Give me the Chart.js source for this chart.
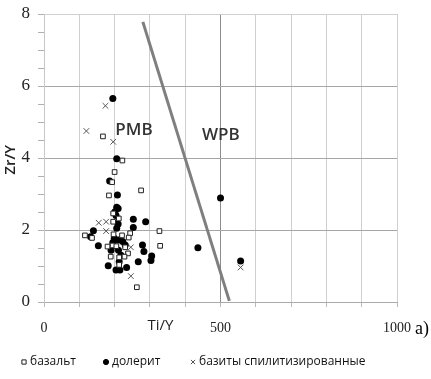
<!DOCTYPE html>
<html>
<head>
<meta charset="utf-8">
<script src="https://cdn.jsdelivr.net/npm/chart.js@4/dist/chart.umd.min.js"></script>
<style>
  html, body { margin: 0; padding: 0; background: #fff; }
  #wrap { width: 431px; height: 379px; }
</style>
</head>
<body>
<div id="wrap"><canvas id="chart"></canvas></div>
<script>
// Ti/Y vs Zr/Y discrimination diagram

// basalt (open squares)
const basaltTi = [167, 222, 200, 193, 275, 184, 196, 212, 196, 197, 221, 244, 240, 327, 329, 116, 194, 180, 205, 230, 189, 213, 238, 228, 213, 263, 136];
const basaltZr = [4.6, 3.93, 3.61, 3.33, 3.1, 2.96, 2.46, 2.32, 2.23, 1.88, 1.85, 1.91, 1.79, 1.97, 1.56, 1.85, 1.57, 1.54, 1.55, 1.52, 1.26, 1.24, 1.35, 1.26, 1.03, 0.41, 1.78];

// dolerite (filled circles)
const doleriteTi = [195, 206, 186, 208, 206, 210, 201, 204, 253, 288, 210, 253, 206, 140, 132, 154, 199, 211, 223, 230, 190, 211, 279, 283, 213, 267, 305, 303, 182, 234, 204, 215, 436, 500, 557, 218, 195];
const doleriteZr = [5.65, 3.98, 3.36, 2.97, 2.63, 2.6, 2.51, 2.4, 2.3, 2.23, 2.17, 2.07, 2.05, 1.98, 1.81, 1.56, 1.77, 1.72, 1.68, 1.58, 1.44, 1.44, 1.58, 1.4, 1.12, 1.12, 1.28, 1.15, 1.01, 0.96, 0.89, 0.89, 1.51, 2.89, 1.14, 1.3, 1.65];

// spilitized basites (crosses)
const spiliteTi = [174, 120, 196, 155, 176, 176, 246, 246, 557];
const spiliteZr = [5.45, 4.75, 4.45, 2.2, 2.23, 1.97, 1.52, 0.72, 0.96];

// PMB / WPB boundary
const boundaryTi = [280, 525];
const boundaryZr = [7.78, 0.03];

const legendLabels = ['базальт', 'долерит', 'базиты спилитизированные'];
const xTickLabels = [0, 500, 1000];
const yTickLabels = [0, 2, 4, 6, 8];

// field labels in data units
const fieldNames = ['PMB', 'WPB'];
const fieldTi = [255, 501];
const fieldZr = [4.78, 4.64];

function toPoints(xs, ys) {
    return xs.map((x, i) => ({ x: x, y: ys[i] }));
}

// legend item marker x positions (px) and middle line
const legendX = [24, 106, 193];
const legendY = 362;

// axis titles, field names, "a)" and the legend row
const textPlugin = {
    id: 'textPlugin',
    afterDraw(chart) {
        const ctx = chart.ctx;
        const xs = chart.scales.x;
        const ys = chart.scales.y;
        ctx.save();
        ctx.fillStyle = '#333';
        ctx.textAlign = 'center';
        ctx.textBaseline = 'middle';
        ctx.font = '600 17px "Open Sans", sans-serif';
        fieldNames.forEach((name, i) => {
            ctx.fillText(name, xs.getPixelForValue(fieldTi[i]), ys.getPixelForValue(fieldZr[i]));
        });

        ctx.font = '15px "Open Sans", sans-serif';
        ctx.fillStyle = '#222';
        ctx.fillText('Ti/Y', xs.getPixelForValue(330), ys.bottom + 24);
        ctx.save();
        ctx.translate(11, ys.getPixelForValue(3.95));
        ctx.rotate(-Math.PI / 2);
        ctx.font = '600 15px "Open Sans", sans-serif';
        ctx.fillText('Zr/Y', 0, 0);
        ctx.restore();

        ctx.font = '18px "Liberation Serif", serif';
        ctx.fillStyle = '#000';
        ctx.textAlign = 'left';
        ctx.fillText('a)', xs.right + 18, ys.bottom + 27);

        // legend
        ctx.font = '12px "Open Sans", sans-serif';
        chart.data.datasets.slice(0, 3).forEach((ds, i) => {
            ctx.strokeStyle = ds.borderColor;
            ctx.fillStyle = ds.backgroundColor;
            Chart.helpers.drawPoint(ctx, {
                pointStyle: ds.pointStyle,
                radius: i === 1 ? 2.6 : 3,
                borderWidth: 1,
                rotation: 0
            }, legendX[i], legendY);
            ctx.fillStyle = '#111';
            ctx.fillText(ds.label, legendX[i] + 6, legendY);
        });
        ctx.restore();
    }
};

window.addEventListener('DOMContentLoaded', () => {
    const canvas = document.getElementById('chart');

    new Chart(canvas, {
        type: 'scatter',
        data: {
            datasets: [
                {
                    label: legendLabels[0],
                    data: toPoints(basaltTi, basaltZr),
                    pointStyle: 'rect',
                    pointRadius: 3.3,
                    backgroundColor: '#fff',
                    borderColor: '#222',
                    borderWidth: 1
                },
                {
                    label: legendLabels[1],
                    data: toPoints(doleriteTi, doleriteZr),
                    pointStyle: 'circle',
                    pointRadius: 3.5,
                    backgroundColor: '#000',
                    borderColor: '#000',
                    borderWidth: 0
                },
                {
                    label: legendLabels[2],
                    data: toPoints(spiliteTi, spiliteZr),
                    pointStyle: 'crossRot',
                    pointRadius: 4,
                    backgroundColor: '#555',
                    borderColor: '#555',
                    borderWidth: 1
                },
                {
                    label: 'boundary',
                    type: 'line',
                    data: toPoints(boundaryTi, boundaryZr),
                    borderColor: '#7f7f7f',
                    borderWidth: 3,
                    pointRadius: 0,
                    fill: false
                }
            ]
        },
        options: {
            responsive: true,
            maintainAspectRatio: false,
            animation: false,
            layout: { padding: { top: 14, right: 34, bottom: 37, left: 0 } },
            plugins: {
                tooltip: { enabled: false },
                legend: { display: false }
            },
            scales: {
                x: {
                    type: 'linear',
                    min: 0,
                    max: 1000,
                    afterFit: scale => { scale.height = 40; },
                    ticks: {
                        stepSize: 100,
                        autoSkip: false,
                        maxRotation: 0,
                        padding: 13,
                        color: '#222',
                        font: { family: '"Liberation Serif", serif', size: 14 },
                        callback: v => xTickLabels.includes(v) ? String(v) : ''
                    },
                    grid: {
                        color: ctx => ctx.tick && ctx.tick.value === 500 ? '#8c8c8c' : '#cfcfcf',
                        tickColor: '#bbb',
                        tickLength: 5
                    },
                    border: { color: '#aaa' }
                },
                y: {
                    type: 'linear',
                    min: 0,
                    max: 8,
                    afterFit: scale => {
                        scale.width = 44;
                        scale.paddingTop = 0;
                        scale.paddingBottom = 0;
                    },
                    ticks: {
                        stepSize: 0.5,
                        autoSkip: false,
                        padding: 8,
                        color: '#222',
                        font: { family: '"Liberation Serif", serif', size: 17 },
                        callback: v => yTickLabels.includes(v) ? String(v) : ''
                    },
                    grid: {
                        color: ctx => {
                            if (!ctx.tick) return 'transparent';
                            if (ctx.tick.value === 8) return '#d0d0d0';
                            return ctx.tick.value % 2 === 0 ? '#a6a6a6' : 'transparent';
                        },
                        tickColor: '#b0b0b0',
                        tickLength: 6
                    },
                    border: { color: '#c8c8c8' }
                }
            }
        },
        plugins: [textPlugin]
    });
});
</script>
</body>
</html>
